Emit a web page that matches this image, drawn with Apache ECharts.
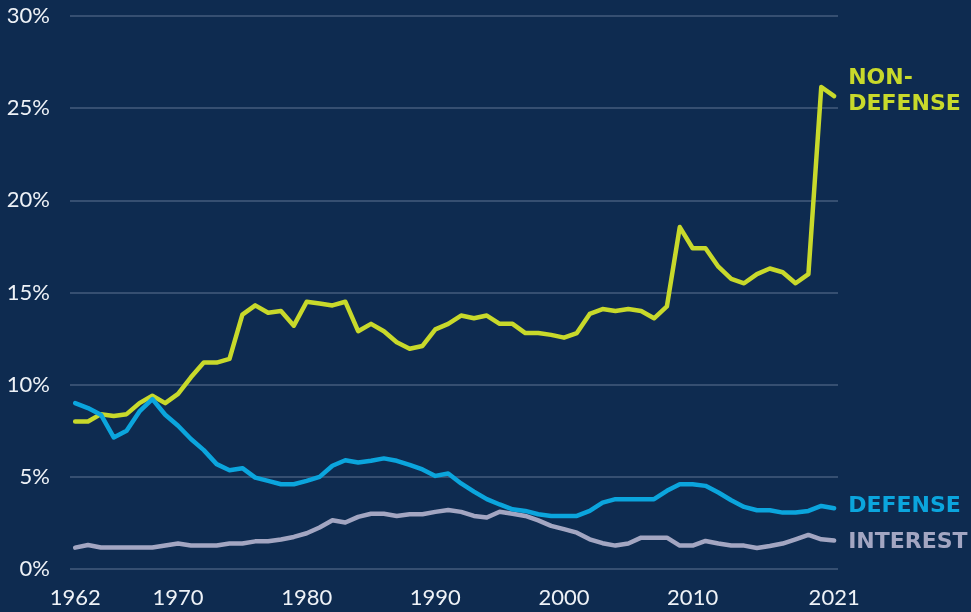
<!DOCTYPE html>
<html>
<head>
<meta charset="utf-8">
<script src="https://cdn.jsdelivr.net/npm/echarts@6/dist/echarts.min.js"></script>
<style>
html,body{margin:0;padding:0;background:#0e2b50;}
#chart{width:971px;height:612px;}
</style>
</head>
<body>
<div id="chart"></div>
<script>
const years = [];
for (let y = 1962; y <= 2021; y++) years.push(y);
const xTickLabels = [1962, 1970, 1980, 1990, 2000, 2010, 2021];
const yTicks = [0, 5, 10, 15, 20, 25, 30];

const nonDefense = [8.0, 8.0, 8.4, 8.3, 8.4, 9.0, 9.4, 9.0, 9.5, 10.4,
  11.2, 11.2, 11.4, 13.8, 14.3, 13.9, 14.0, 13.2, 14.5, 14.4,
  14.3, 14.5, 12.9, 13.3, 12.9, 12.3, 11.95, 12.1, 13.0, 13.3,
  13.75, 13.6, 13.75, 13.3, 13.3, 12.8, 12.8, 12.7, 12.55, 12.8,
  13.84, 14.1, 14.0, 14.1, 14.0, 13.6, 14.25, 18.55, 17.4, 17.4,
  16.4, 15.74, 15.5, 16.0, 16.3, 16.1, 15.5, 16.0, 26.15, 25.65];

const defense = [9.0, 8.73, 8.37, 7.14, 7.5, 8.55, 9.22, 8.37, 7.77, 7.05,
  6.45, 5.69, 5.36, 5.47, 4.96, 4.78, 4.6, 4.6, 4.78, 5.0,
  5.6, 5.9, 5.78, 5.87, 6.0, 5.87, 5.65, 5.4, 5.05, 5.18,
  4.64, 4.2, 3.79, 3.5, 3.24, 3.15, 2.97, 2.88, 2.88, 2.88,
  3.15, 3.6, 3.79, 3.79, 3.79, 3.79, 4.24, 4.6, 4.6, 4.51,
  4.15, 3.73, 3.37, 3.19, 3.19, 3.06, 3.06, 3.15, 3.42, 3.3];

const interest = [1.16, 1.3, 1.17, 1.17, 1.17, 1.17, 1.17, 1.28, 1.38, 1.28,
  1.28, 1.28, 1.38, 1.38, 1.5, 1.5, 1.6, 1.74, 1.94, 2.25,
  2.64, 2.52, 2.83, 3.0, 3.0, 2.88, 2.97, 2.97, 3.1, 3.2,
  3.1, 2.88, 2.79, 3.11, 3.0, 2.88, 2.64, 2.34, 2.16, 1.97,
  1.61, 1.4, 1.27, 1.38, 1.7, 1.7, 1.7, 1.27, 1.27, 1.52,
  1.38, 1.27, 1.27, 1.14, 1.25, 1.38, 1.61, 1.85, 1.61, 1.54];

const seriesNames = ['NON-\nDEFENSE', 'DEFENSE', 'INTEREST'];
const colors = ['#c8d92b', '#0ba5dd', '#a3a6c2'];

function pairs(arr) { return years.map((y, i) => [y, arr[i]]); }

const chart = echarts.init(document.getElementById('chart'), null, {renderer: 'canvas'});
const fontFam = 'Lato, "Noto Sans", sans-serif';

function mkSeries(name, data, color, offY) {
  return {
    name: name,
    type: 'line',
    data: pairs(data),
    showSymbol: false,
    symbol: 'none',
    lineStyle: {color: color, width: 4.5, join: 'round', cap: 'round'},
    itemStyle: {color: color},
    animation: false,
    endLabel: {
      show: true,
      formatter: name,
      color: color,
      fontFamily: '"DejaVu Sans", sans-serif',
      fontSize: 22,
      fontWeight: 'bold',
      lineHeight: 26,
      distance: 14,
      offset: [0, offY],
      align: 'left'
    }
  };
}

chart.setOption({
  backgroundColor: '#0e2b50',
  animation: false,
  grid: {left: 70, right: 133, top: 16, bottom: 43, containLabel: false},
  xAxis: {
    type: 'value',
    min: 1961.6,
    max: 2021.3,
    axisLine: {show: false},
    axisTick: {show: false},
    splitLine: {show: false},
    axisLabel: {
      customValues: xTickLabels,
      color: '#eef2f7',
      fontFamily: fontFam,
      fontSize: 22,
      margin: 18,
      formatter: v => String(v)
    }
  },
  yAxis: {
    type: 'value',
    min: 0,
    max: 30,
    interval: 5,
    axisLine: {show: false},
    axisTick: {show: false},
    splitLine: {show: true, lineStyle: {color: '#455c7c', width: 1.5}},
    axisLabel: {
      color: '#eef2f7',
      fontFamily: fontFam,
      fontSize: 22,
      margin: 20,
      formatter: '{value}%'
    }
  },
  series: [
    mkSeries(seriesNames[0], nonDefense, colors[0], -5),
    mkSeries(seriesNames[2], interest, colors[2], 2),
    mkSeries(seriesNames[1], defense, colors[1], -2)
  ]
});
</script>
</body>
</html>
